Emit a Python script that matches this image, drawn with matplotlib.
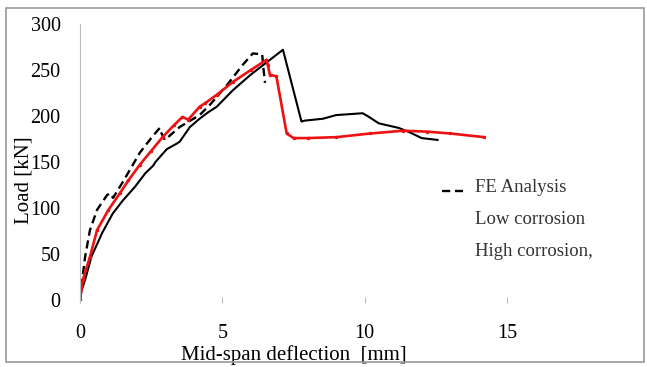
import matplotlib.pyplot as plt
from matplotlib.patches import Rectangle

# FE analysis (dashed)
fe_x = [0, 0.05, 0.18, 0.35, 0.6, 0.95, 1.05, 1.16, 1.5, 2.1, 2.5, 2.8, 2.85, 2.98, 3.5, 4.2,
        4.56, 5.2, 5.7, 6.07, 6.4, 6.45, 6.5]
fe_y = [0, 15, 47, 76, 98, 114, 116, 111, 128, 160, 176, 187, 182, 174, 188, 201,
        212, 235, 255, 268, 267, 250, 236]

# low corrosion (black solid)
low_x = [0, 0.05, 0.18, 0.4, 0.78, 1.15, 1.5, 1.93, 2.3, 2.57, 2.65, 3.05, 3.4, 3.5, 3.86, 4.2,
         4.5, 4.8, 5.37, 6.0, 6.67, 7.13, 7.78, 7.9, 8.53, 9.0, 9.93, 10.1, 10.5, 11.2, 11.6,
         12.0, 12.56]
low_y = [0, 10, 22, 47, 73, 94, 108, 123, 138, 146, 150, 164, 170, 172, 188, 197,
         204, 210, 228, 245, 261, 272, 194, 195, 197, 201, 203, 200, 192, 187, 182,
         176, 174]

# high corrosion (red)
high_x = [0, 0.1, 0.35, 0.6, 1.0, 1.4, 1.7, 2.1, 2.5, 2.9, 3.3, 3.6, 3.8, 4.2, 4.4, 4.8, 5.37,
          6.0, 6.55, 6.6, 6.67, 6.9, 7.26, 7.5, 8.0, 9.0, 10.2, 11.35, 12.2, 13.0, 14.2]
high_y = [0, 22, 47, 76, 98, 116, 130, 147, 162, 177, 190, 199, 196, 210, 214, 223, 237,
          250, 261, 255, 245, 243, 181, 176, 176, 177, 181, 184, 183, 181, 177]

x_ticks = [0, 5, 10, 15]
y_ticks = [0, 50, 100, 150, 200, 250, 300]

plt.rcParams['font.family'] = ['Liberation Serif', 'DejaVu Serif']

fig = plt.figure(figsize=(6.47, 3.67), dpi=100)
ax = fig.add_axes([80 / 647, 67 / 367, (507 - 80) / 647, 276 / 367])

ax.plot(fe_x, fe_y, color='black', linestyle=(0, (3.5, 2)), linewidth=1.7)
ax.plot(low_x, low_y, color='black', linewidth=1.5)
ax.plot(high_x, high_y, color='#ee1111', linewidth=1.9, marker='.', markersize=3)

ax.set_xlim(0, 15)
ax.set_ylim(0, 300)
ax.set_xticks(x_ticks)
ax.set_yticks(y_ticks)
ax.tick_params(axis='x', length=5, color='#bbbbbb', direction='inout', pad=15, labelsize=14.5)
ax.tick_params(axis='y', length=0, pad=14, labelsize=14.5)
for s in ['top', 'right', 'bottom']:
    ax.spines[s].set_visible(False)
ax.spines['left'].set_color('#bbbbbb')
ax.set_xlabel('Mid-span deflection  [mm]', fontsize=15, labelpad=1)
ax.set_ylabel('Load [kN]', fontsize=15)
ax.yaxis.set_label_coords(-0.108, 0.435)

# legend drawn by hand like the source (only the first key has a sample)
fig.lines.append(plt.Line2D([442 / 647, 463 / 647], [1 - 191 / 367] * 2,
                            transform=fig.transFigure, color='black',
                            linestyle=(0, (3.5, 2)), linewidth=1.7))
for txt, py in [('FE Analysis', 188), ('Low corrosion', 219), ('High corrosion,', 251)]:
    fig.text(475 / 647, 1 - py / 367, txt, fontsize=13.5, color='#333333', va='center')

fig.patches.append(Rectangle((6 / 647, 5 / 367), 638 / 647, 354 / 367,
                             transform=fig.transFigure, fill=False,
                             edgecolor='#999999', linewidth=1.2))

fig.savefig('out.png', dpi=100)
